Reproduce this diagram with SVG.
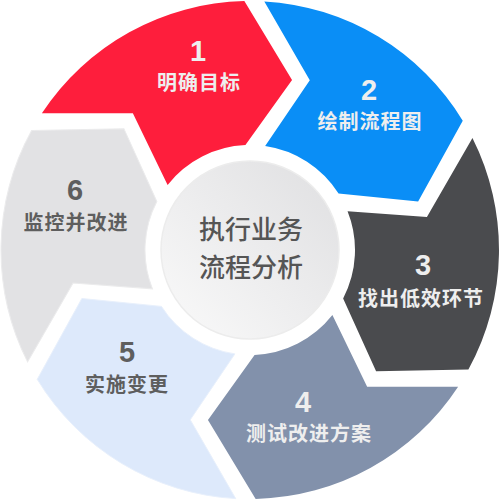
<svg xmlns="http://www.w3.org/2000/svg" xmlns:xlink="http://www.w3.org/1999/xlink" width="500" height="500" viewBox="0 0 500 500">
  <style>
    .num { font-family: "Liberation Sans", Arial, sans-serif; font-weight: bold; font-size: 29px; text-anchor: middle; }
    .lbl { font-family: "Noto Sans CJK SC", "Liberation Sans", sans-serif; font-weight: bold; font-size: 20px; letter-spacing: 1px; text-anchor: middle; }
    .light { fill: #eeeeee; }
    .dark { fill: #5e5e5e; }
    .ctr { font-family: "Noto Sans CJK SC", "Liberation Sans", sans-serif; font-weight: 500; font-size: 26px; text-anchor: middle; fill: #555555; }
  </style>
  <defs>
    <path id="seg" d="M264.33,1.41 A249,249 0 0 1 462.75,120.64 L418.14,201.47 L338.56,193.58 A105,105 0 0 0 265.16,146.10 L309.79,80.22 Z"/>
    <linearGradient id="cg" x1="1" y1="0" x2="0" y2="1">
      <stop offset="0" stop-color="#dfdfe1"/>
      <stop offset="1" stop-color="#fafafa"/>
    </linearGradient>
  </defs>
  <rect width="500" height="500" fill="#ffffff"/>
  <g id="node1">
    <use xlink:href="#seg" href="#seg" transform="rotate(-60 250 250)" fill="#fe1e3c"/>
    <text class="num light" x="198" y="61">1</text>
    <text class="lbl light" x="199" y="90">明确目标</text>
  </g>
  <g id="node2">
    <use xlink:href="#seg" href="#seg" fill="#0a8ef6"/>
    <text class="num light" x="369" y="100">2</text>
    <text class="lbl light" x="370" y="129">绘制流程图</text>
  </g>
  <g id="node3">
    <use xlink:href="#seg" href="#seg" transform="rotate(60 250 250)" fill="#4a4b4e"/>
    <text class="num light" x="423" y="275">3</text>
    <text class="lbl light" x="421" y="306">找出低效环节</text>
  </g>
  <g id="node4">
    <use xlink:href="#seg" href="#seg" transform="rotate(120 250 250)" fill="#8291ab"/>
    <text class="num light" x="303" y="412">4</text>
    <text class="lbl light" x="309" y="441">测试改进方案</text>
  </g>
  <g id="node5">
    <use xlink:href="#seg" href="#seg" transform="rotate(180 250 250)" fill="#dde9fb" stroke="#e8f0fc" stroke-width="1"/>
    <text class="num dark" x="127" y="362">5</text>
    <text class="lbl dark" x="127" y="392">实施变更</text>
  </g>
  <g id="node6">
    <use xlink:href="#seg" href="#seg" transform="rotate(240 250 250)" fill="#e2e2e4" stroke="#ebebec" stroke-width="1"/>
    <text class="num dark" x="75" y="200">6</text>
    <text class="lbl dark" x="76" y="230">监控并改进</text>
  </g>
  <g id="center">
    <circle cx="250" cy="250" r="89" fill="url(#cg)" stroke="#ececec" stroke-width="1.5"/>
    <text class="ctr" x="251" y="239">执行业务</text>
    <text class="ctr" x="251" y="277">流程分析</text>
  </g>
  <g id="connectors"></g>
</svg>
